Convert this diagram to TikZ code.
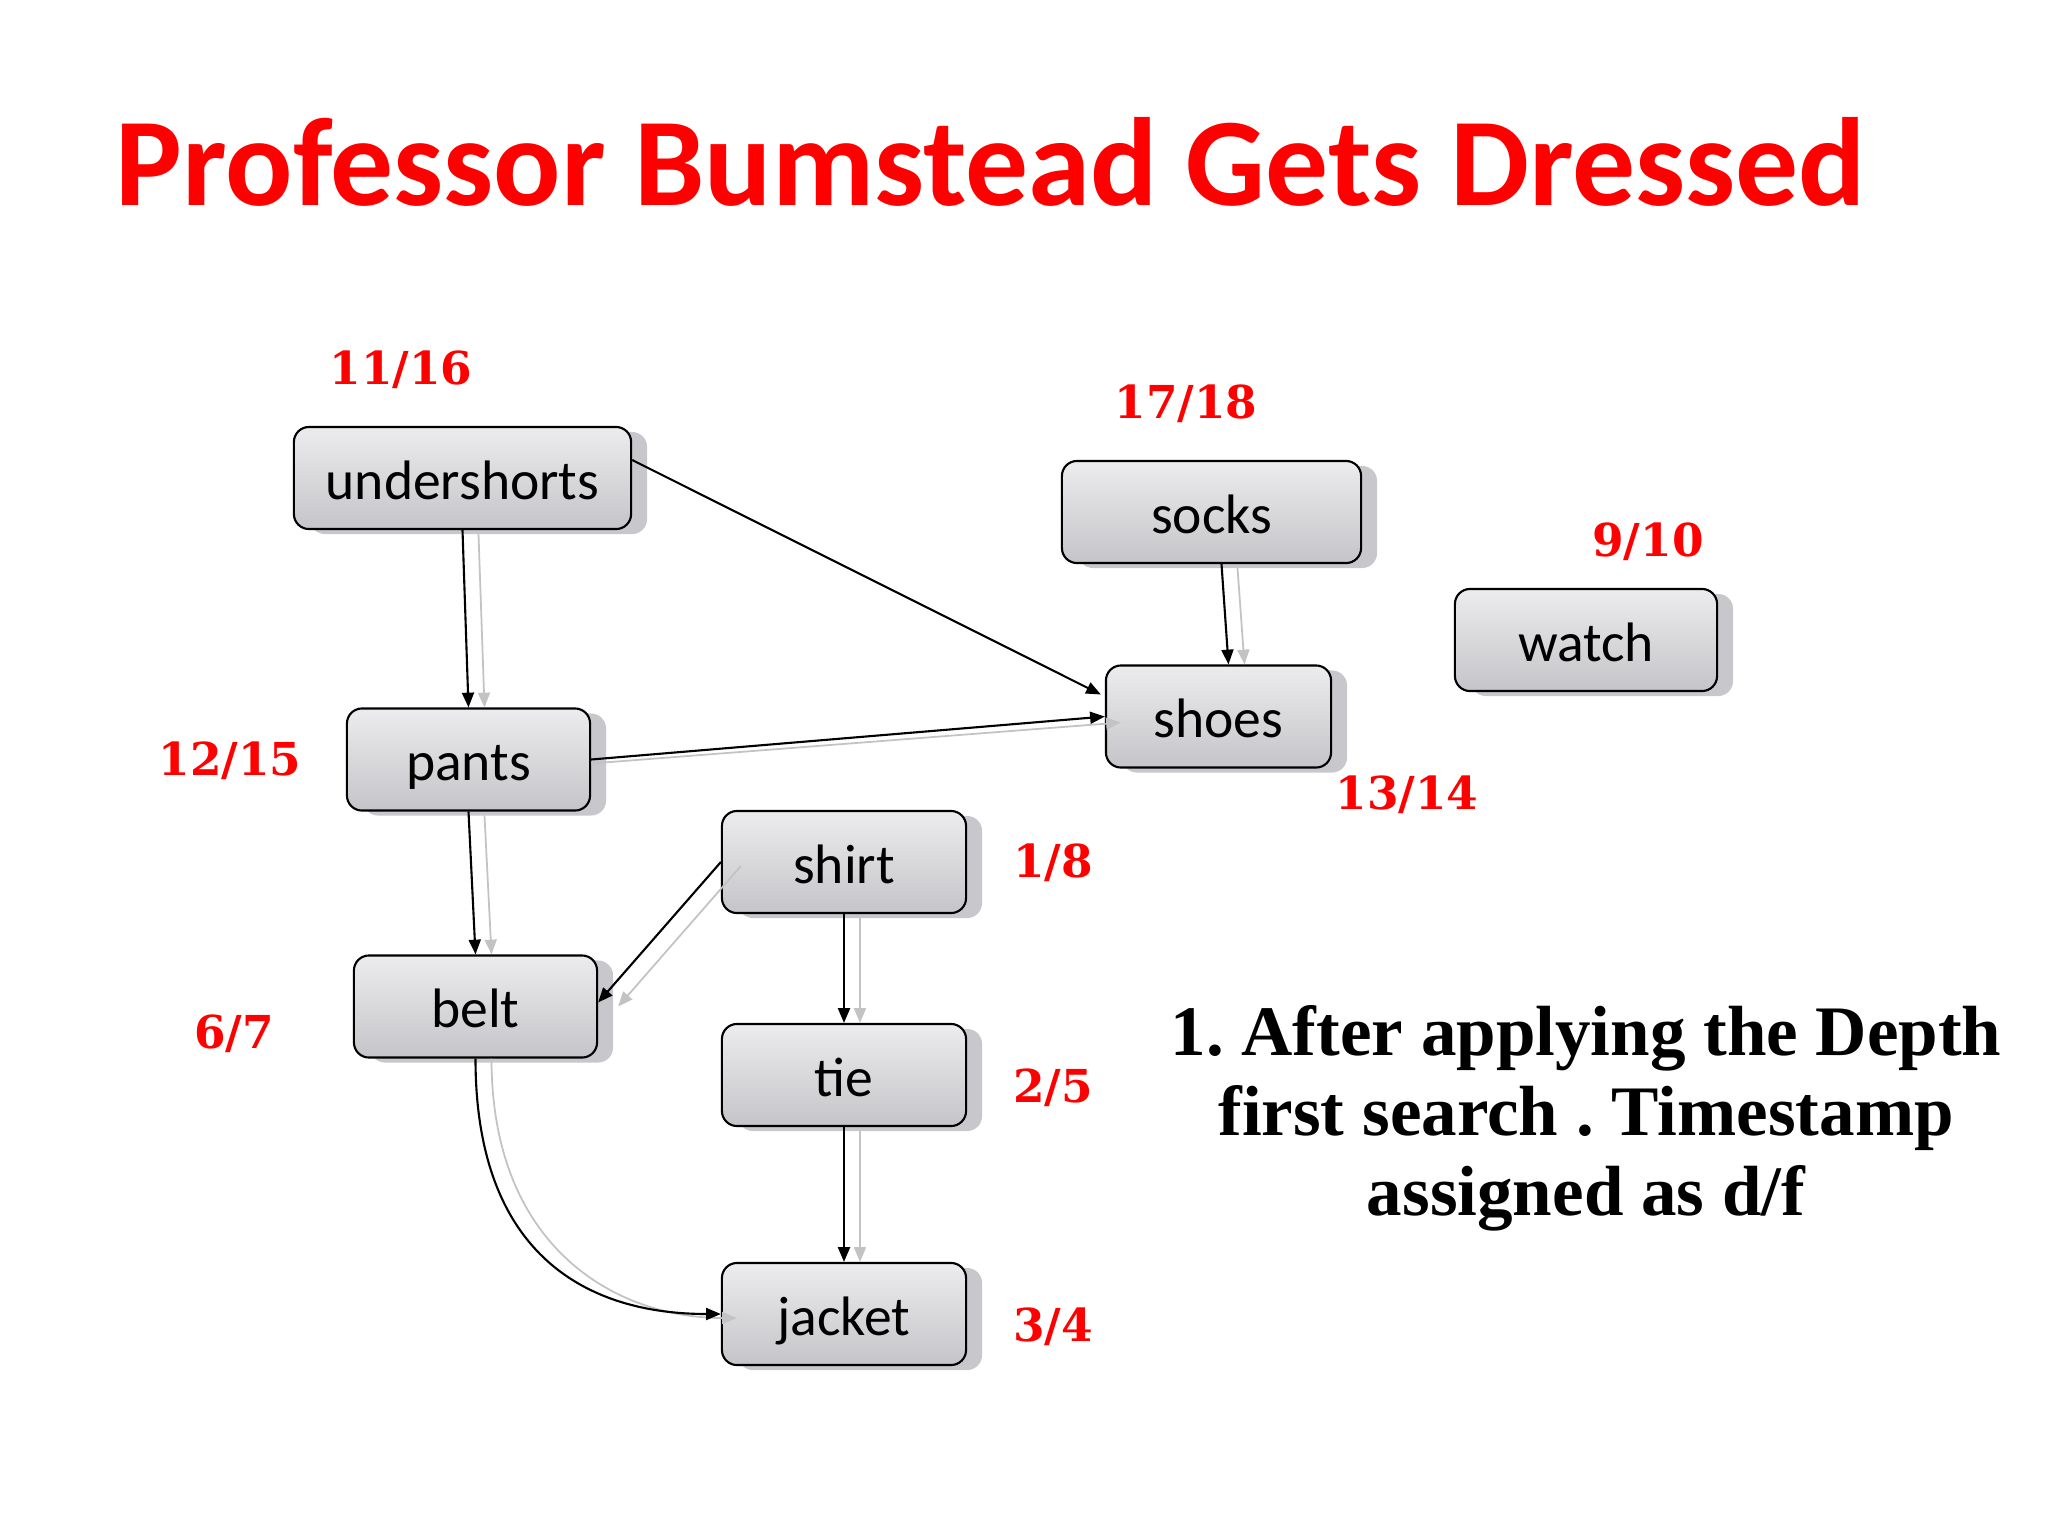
\documentclass[tikz,border=0pt]{standalone}
\usepackage{fontspec}
\setmainfont{Carlito}
\newfontfamily\labfont{DejaVu Serif}
\newfontfamily\parfont{Liberation Serif}
\usetikzlibrary{shadows,arrows.meta,calc}
\definecolor{titlered}{RGB}{255,0,0}
\definecolor{boxtop}{RGB}{236,236,238}
\definecolor{boxbot}{RGB}{197,197,201}
\definecolor{shadowgray}{RGB}{200,200,204}
\definecolor{edgegray}{RGB}{195,195,198}
\frenchspacing
\tikzset{
  box/.style={draw=black, line width=0.6pt, rounded corners=0.15cm, minimum height=1.02cm,
    top color=boxtop, bottom color=boxbot, inner sep=0pt, text height=13.5pt, text depth=1.5pt,
    font=\fontsize{15.8}{18}\selectfont,
    drop shadow={shadow xshift=0.16cm, shadow yshift=-0.05cm, fill=shadowgray, opacity=1}},
  lab/.style={text=titlered, font=\labfont\bfseries\fontsize{12.9}{15}\selectfont},
  blk/.style={line width=0.6pt, draw=black, -{Triangle[length=4.2pt,width=3.4pt]}},
  gry/.style={line width=0.5pt, draw=edgegray, -{Triangle[length=4.2pt,width=3.4pt]}},
}
\begin{document}
\begin{tikzpicture}[x=0.01cm,y=-0.01cm]
\useasboundingbox[fill=white] (0,0) rectangle (2048,1536);
% title
\node[anchor=base west, inner sep=0pt, text=titlered, font=\bfseries\fontsize{35.7}{40}\selectfont] (title) at (115,205) {Professor Bumstead Gets Dressed};
% nodes
\node[box, minimum width=3.37cm] (undershorts) at (462.5,478) {undershorts};
\node[box, minimum width=2.99cm] (socks) at (1211.5,512) {socks};
\node[box, minimum width=2.62cm] (watch) at (1586,640) {watch};
\node[box, minimum width=2.25cm] (shoes) at (1218.5,716.5) {shoes};
\node[box, minimum width=2.43cm] (pants) at (468.5,759.5) {pants};
\node[box, minimum width=2.44cm] (shirt) at (844,862) {shirt};
\node[box, minimum width=2.43cm] (belt) at (475.5,1006.5) {belt};
\node[box, minimum width=2.44cm] (tie) at (844,1075) {tie};
\node[box, minimum width=2.44cm] (jacket) at (844,1314) {jacket};
% labels
\node[lab] (l1) at (401,370) {11/16};
\node[lab] (l2) at (1186,404) {17/18};
\node[lab] (l3) at (1648,542) {9/10};
\node[lab] (l4) at (230,761) {12/15};
\node[lab] (l5) at (1407,795) {13/14};
\node[lab] (l6) at (1053,863) {1/8};
\node[lab] (l7) at (234,1034) {6/7};
\node[lab] (l8) at (1053,1088) {2/5};
\node[lab] (l9) at (1053,1327) {3/4};
% paragraph
\node[align=center, inner sep=0pt, font=\parfont\bfseries\fontsize{20.2}{22.8}\selectfont] (txt) at (1586,1118)
  {1. After applying the Depth\\first search . Timestamp\\assigned as d/f};
% gray shadow edges
\draw[gry] ([shift={(16,4)}]undershorts.south) -- ([shift={(16,0)}]pants.north);
\draw[gry] ([shift={(16,4)}]pants.south) -- ([shift={(16,0)}]belt.north);
\draw[gry] ([shift={(26,4)}]socks.south) -- ([shift={(26,0)}]shoes.north);
\draw[gry] ([shift={(0,4)}]pants.east) -- ([shift={(16,6)}]shoes.west);
\draw[gry] ([shift={(20,4)}]shirt.west) -- ([shift={(20,0)}]belt.east);
\draw[gry] ([shift={(16,4)}]shirt.south) -- ([shift={(16,0)}]tie.north);
\draw[gry] ([shift={(16,4)}]tie.south) -- ([shift={(16,0)}]jacket.north);
\draw[gry] ([shift={(16,0)}]belt.south) .. controls +(0,190) and +(-120,0) .. ([shift={(16,4)}]jacket.west);
% black edges
\draw[blk] (undershorts.south) -- (pants.north);
\draw[blk] ($(undershorts.east)+(0,-18)$) -- ($(shoes.west)+(-4,-22)$);
\draw[blk] (pants.east) -- (shoes.west);
\draw[blk] ($(socks.south)+(10,0)$) -- ($(shoes.north)+(10,0)$);
\draw[blk] (pants.south) -- (belt.north);
\draw[blk] (shirt.west) -- ($(belt.east)+(0,-4)$);
\draw[blk] (shirt.south) -- (tie.north);
\draw[blk] (tie.south) -- (jacket.north);
\draw[blk] (belt.south) .. controls +(0,200) and +(-130,0) .. (jacket.west);
\end{tikzpicture}
\end{document}
